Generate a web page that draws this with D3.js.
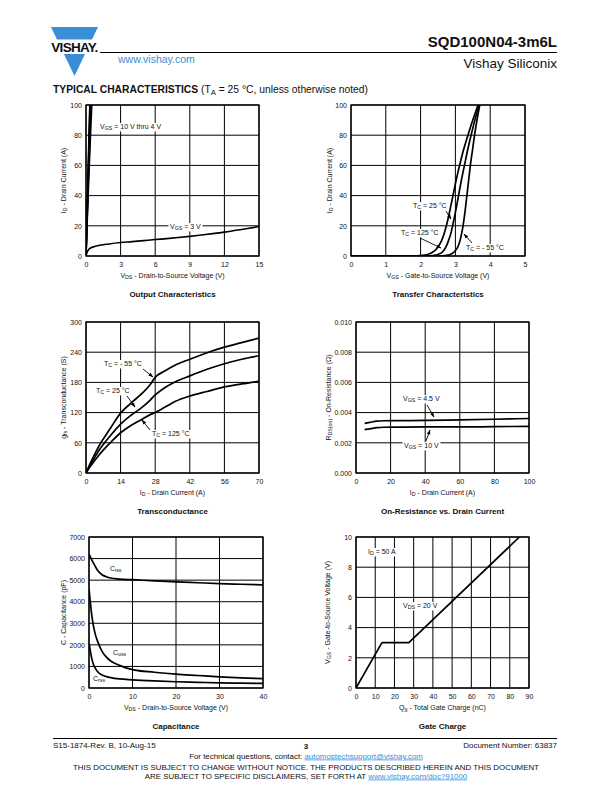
<!DOCTYPE html>
<html><head><meta charset="utf-8">
<script src="https://cdn.jsdelivr.net/npm/d3@7"></script>
<style>
body{margin:0;background:#fff}
svg{display:block}
text{font-family:"Liberation Sans",Arial,Helvetica,sans-serif;fill:#111}
</style>
</head><body>
<svg id="c" width="612" height="792"></svg>
<script>
// ---------------- DATA ----------------
// Output characteristics (VDS [V], ID [A])
const outTicksX = [0, 3, 6, 9, 12, 15];
const outTicksY = [0, 20, 40, 60, 80, 100];
const outVgs10 = [[0,0],[0.1,31],[0.2,62],[0.3,92],[0.33,100]];
const outVgs8  = [[0,0],[0.1,29],[0.2,58],[0.3,86],[0.35,100]];
const outVgs6  = [[0,0],[0.1,27],[0.2,54],[0.3,80],[0.38,100]];
const outVgs5  = [[0,0],[0.1,25],[0.2,49],[0.3,72],[0.42,100]];
const outVgs4  = [[0,0],[0.1,22],[0.2,43],[0.3,63],[0.4,82],[0.5,100]];
const outVgs3  = [[0,0],[0.1,2.5],[0.2,4],[0.4,5.3],[0.7,6.2],[1,6.8],[2,8],[3,8.9],[4,9.5],[5,10.2],[6,10.9],[7,11.5],[8,12.2],[9,13],[10,13.9],[11,14.8],[12,15.8],[13,17],[14,18.2],[15,19.5]];

// Transfer characteristics (VGS [V], ID [A])
const trTicksX = [0, 1, 2, 3, 4, 5];
const trTicksY = [0, 20, 40, 60, 80, 100];
const tr125 = [[0,0],[1.8,0],[2.0,0.3],[2.2,1],[2.38,3],[2.5,6],[2.6,10],[2.68,15],[2.74,20],[2.84,30],[2.93,40],[3.02,50],[3.12,60],[3.23,70],[3.36,80],[3.5,90],[3.65,100]];
const tr25  = [[0,0],[2.2,0],[2.35,0.3],[2.5,1],[2.64,3],[2.73,6],[2.8,10],[2.87,15],[2.92,20],[3.01,30],[3.09,40],[3.17,50],[3.26,60],[3.35,70],[3.45,80],[3.56,90],[3.68,100]];
const trM55 = [[0,0],[2.55,0],[2.7,0.3],[2.85,1],[2.98,3],[3.07,6],[3.13,10],[3.18,15],[3.22,20],[3.28,30],[3.33,40],[3.38,50],[3.43,60],[3.49,70],[3.55,80],[3.62,90],[3.7,100]];

// Transconductance (ID [A], gfs [S])
const gfsTicksX = [0, 14, 28, 42, 56, 70];
const gfsTicksY = [0, 60, 120, 180, 240, 300];
const gfsM55 = [[0,0],[2,22],[4,42],[6,60],[8,75],[10,90],[14,119],[18,138],[22,155],[26,176],[28,190],[32,203],[36,214],[42,226],[49,239],[56,250],[63,259],[70,268]];
const gfs25  = [[0,0],[2,18],[4,35],[6,50],[8,63],[10,75],[14,97],[18,114],[22,128],[26,145],[28,155],[32,170],[36,181],[42,193],[49,206],[56,217],[63,226],[70,233]];
const gfs125 = [[0,0],[2,15],[4,28],[6,40],[8,51],[10,61],[14,80],[18,94],[22,105],[26,116],[28,120],[32,131],[36,142],[42,153],[49,162],[56,171],[63,177],[70,182]];

// On-resistance (ID [A], RDS(on) [Ohm])
const rdsTicksX = [0, 20, 40, 60, 80, 100];
const rdsTicksY = [0, 0.002, 0.004, 0.006, 0.008, 0.010];
const rdsVgs45 = [[5,0.00329],[8,0.00335],[12,0.00343],[16,0.00346],[25,0.00347],[40,0.00348],[60,0.00352],[80,0.00356],[100,0.00361]];
const rdsVgs10 = [[5,0.00287],[8,0.00292],[12,0.00300],[16,0.00303],[25,0.00304],[40,0.00305],[60,0.00305],[80,0.00307],[100,0.00309]];

// Capacitance (VDS [V], C [pF])
const capTicksX = [0, 10, 20, 30, 40];
const capTicksY = [0, 1000, 2000, 3000, 4000, 5000, 6000, 7000];
const capCiss = [[0,6200],[0.5,6000],[1,5800],[2,5450],[3,5250],[4,5160],[5,5100],[7,5050],[10,5020],[15,4970],[20,4920],[25,4880],[30,4840],[35,4810],[40,4780]];
const capCoss = [[0,4600],[0.25,4100],[0.5,3600],[1,2900],[1.5,2450],[2,2150],[3,1700],[4,1430],[5,1250],[7,1050],[10,850],[15,730],[20,640],[25,580],[30,520],[35,470],[40,430]];
const capCrss = [[0,2100],[0.25,1800],[0.5,1500],[1,1100],[1.5,900],[2,750],[3,600],[4,530],[5,480],[7,420],[10,380],[15,330],[20,290],[25,265],[30,240],[35,225],[40,210]];

// Gate charge (Qg [nC], VGS [V])
const gcTicksX = [0, 10, 20, 30, 40, 50, 60, 70, 80, 90];
const gcTicksY = [0, 2, 4, 6, 8, 10];
const gcVgs = [[0,0],[13.5,3],[27.5,3],[85,10]];

// ---------------- DRAW ----------------
const svg = d3.select("#c");
const FS = 7;

function rich(t, str) {
  const parts = str.split(/_\{([^}]*)\}/);
  let pendingUp = false;
  parts.forEach((p, i) => {
    if (i % 2 === 1) {
      t.append("tspan").attr("font-size", "75%").attr("dy", "0.28em").text(p);
      pendingUp = true;
    } else if (p.length) {
      const ts = t.append("tspan").text(p);
      if (pendingUp) { ts.attr("dy", "-0.21em"); pendingUp = false; }
    }
  });
  return t;
}

svg.append("defs").append("marker")
  .attr("id", "arr").attr("viewBox", "0 0 10 10").attr("refX", 9).attr("refY", 5)
  .attr("markerWidth", 5).attr("markerHeight", 5).attr("orient", "auto")
  .attr("markerUnits", "userSpaceOnUse")
  .append("path").attr("d", "M0,1.5 L10,5 L0,8.5 Z").attr("fill", "#000");

function chart(cfg, idx) {
  const x = d3.scaleLinear().domain(cfg.xd).range([cfg.x0, cfg.x1]);
  const y = d3.scaleLinear().domain(cfg.yd).range([cfg.y1, cfg.y0]);
  const g = svg.append("g");
  const cid = "clip" + idx;
  svg.select("defs").append("clipPath").attr("id", cid)
    .append("rect").attr("x", cfg.x0).attr("y", cfg.y0)
    .attr("width", cfg.x1 - cfg.x0).attr("height", cfg.y1 - cfg.y0);
  // grid
  g.selectAll(".gx").data(cfg.xt).enter().append("line")
    .attr("x1", d => x(d)).attr("x2", d => x(d)).attr("y1", cfg.y0).attr("y2", cfg.y1)
    .attr("stroke", "#000").attr("stroke-width", 1);
  g.selectAll(".gy").data(cfg.yt).enter().append("line")
    .attr("y1", d => y(d)).attr("y2", d => y(d)).attr("x1", cfg.x0).attr("x2", cfg.x1)
    .attr("stroke", "#000").attr("stroke-width", 1);
  // axes via d3 (labels only)
  const ax = g.append("g").attr("transform", `translate(0,${cfg.y1})`)
    .call(d3.axisBottom(x).tickValues(cfg.xt).tickFormat(cfg.xf || (d => d)).tickSize(0).tickPadding(6));
  const ay = g.append("g").attr("transform", `translate(${cfg.x0},0)`)
    .call(d3.axisLeft(y).tickValues(cfg.yt).tickFormat(cfg.yf || (d => d)).tickSize(0).tickPadding(4));
  [ax, ay].forEach(a => {
    a.select(".domain").remove();
    a.selectAll("text").attr("font-size", FS).attr("font-family", "Liberation Sans, Arial, sans-serif").attr("fill", "#222");
  });
  // series
  const line = d3.line().x(d => x(d[0])).y(d => y(d[1])).curve(cfg.curve || d3.curveMonotoneX);
  const sg = g.append("g").attr("clip-path", `url(#${cid})`);
  cfg.series.forEach(s => {
    sg.append("path").attr("d", line(s)).attr("fill", "none")
      .attr("stroke", "#000").attr("stroke-width", cfg.sw || 1.7).attr("stroke-linejoin", "round");
  });
  // annotations (white background)
  (cfg.notes || []).forEach(n => {
    const t = g.append("text").attr("x", n.x).attr("y", n.y).attr("font-size", FS)
      .attr("text-anchor", n.anchor || "start");
    rich(t, n.text);
    if (n.bg !== false) {
      const b = t.node().getBBox();
      g.insert("rect", () => t.node()).attr("x", b.x - 1.5).attr("y", b.y)
        .attr("width", b.width + 3).attr("height", b.height).attr("fill", "#fff");
    }
    if (n.arrow) {
      g.append("line").attr("x1", n.arrow[0]).attr("y1", n.arrow[1])
        .attr("x2", n.arrow[2]).attr("y2", n.arrow[3])
        .attr("stroke", "#000").attr("stroke-width", 0.9).attr("marker-end", "url(#arr)");
    }
  });
  // frame
  g.append("rect").attr("x", cfg.x0).attr("y", cfg.y0)
    .attr("width", cfg.x1 - cfg.x0).attr("height", cfg.y1 - cfg.y0)
    .attr("fill", "none").attr("stroke", "#000").attr("stroke-width", 1.3);
  // titles
  rich(g.append("text").attr("x", (cfg.x0 + cfg.x1) / 2).attr("y", cfg.y1 + 22)
    .attr("text-anchor", "middle").attr("font-size", FS), cfg.xTitle);
  rich(g.append("text").attr("transform", `translate(${cfg.yTx},${(cfg.y0 + cfg.y1) / 2}) rotate(-90)`)
    .attr("text-anchor", "middle").attr("font-size", FS), cfg.yTitle);
  g.append("text").attr("x", (cfg.x0 + cfg.x1) / 2).attr("y", cfg.y1 + 40.5)
    .attr("text-anchor", "middle").attr("font-size", 8).attr("font-weight", "bold").text(cfg.title);
}

const charts = [
  {x0:86, x1:259, y0:105, y1:256, xd:[0,15], yd:[0,100], xt:outTicksX, yt:outTicksY,
   series:[outVgs10, outVgs8, outVgs6, outVgs5, outVgs4, outVgs3], sw:1.6,
   xTitle:"V_{DS} - Drain-to-Source Voltage (V)", yTitle:"I_{D} - Drain Current (A)", yTx:66,
   title:"Output Characteristics",
   notes:[{x:100, y:129, text:"V_{GS} = 10 V thru 4 V"},
          {x:170, y:229, text:"V_{GS} = 3 V"}]},
  {x0:351, x1:525, y0:105, y1:256, xd:[0,5], yd:[0,100], xt:trTicksX, yt:trTicksY,
   series:[tr125, tr25, trM55],
   xTitle:"V_{GS} - Gate-to-Source Voltage (V)", yTitle:"I_{D} - Drain Current (A)", yTx:332,
   title:"Transfer Characteristics",
   notes:[{x:413, y:208, text:"T_{C} = 25 °C", arrow:[446,211,451,219]},
          {x:401, y:235, text:"T_{C} = 125 °C", arrow:[420,238,441,248]},
          {x:466, y:250, text:"T_{C} = - 55 °C", arrow:[472,243,464,234]}]},
  {x0:86, x1:259, y0:322, y1:473, xd:[0,70], yd:[0,300], xt:gfsTicksX, yt:gfsTicksY,
   series:[gfsM55, gfs25, gfs125],
   xTitle:"I_{D} - Drain Current (A)", yTitle:"g_{fs} - Transconductance (S)", yTx:66,
   title:"Transconductance",
   notes:[{x:104, y:366, text:"T_{C} = - 55 °C", arrow:[143,369,153,377]},
          {x:96, y:393, text:"T_{C} = 25 °C", arrow:[127,396,135,407]},
          {x:152, y:436, text:"T_{C} = 125 °C", arrow:[150,430,142,420]}]},
  {x0:356, x1:529, y0:322, y1:473, xd:[0,100], yd:[0,0.010], xt:rdsTicksX, yt:rdsTicksY,
   yf:d3.format(".3f"),
   series:[rdsVgs45, rdsVgs10],
   xTitle:"I_{D} - Drain Current (A)", yTitle:"R_{DS(on)} - On-Resistance (Ω)", yTx:331,
   title:"On-Resistance vs. Drain Current",
   notes:[{x:403, y:401, text:"V_{GS} = 4.5 V", arrow:[427,405,434,417]},
          {x:404, y:448, text:"V_{GS} = 10 V", arrow:[426,441,430,430]}]},
  {x0:89, x1:263, y0:537, y1:688, xd:[0,40], yd:[0,7000], xt:capTicksX, yt:capTicksY,
   series:[capCiss, capCoss, capCrss],
   xTitle:"V_{DS} - Drain-to-Source Voltage (V)", yTitle:"C - Capacitance (pF)", yTx:66,
   title:"Capacitance",
   notes:[{x:110, y:571, text:"C_{iss}", bg:false},
          {x:113, y:655, text:"C_{oss}", bg:false},
          {x:93, y:681, text:"C_{rss}", bg:false}]},
  {x0:356, x1:529, y0:537, y1:688, xd:[0,90], yd:[0,10], xt:gcTicksX, yt:gcTicksY,
   series:[gcVgs], curve:d3.curveLinear,
   xTitle:"Q_{g} - Total Gate Charge (nC)", yTitle:"V_{GS} - Gate-to-Source Voltage (V)", yTx:330,
   title:"Gate Charge",
   notes:[{x:368, y:554, text:"I_{D} = 50 A"},
          {x:403, y:608, text:"V_{DS} = 20 V"}]}
];
charts.forEach((c, i) => chart(c, i));

// ---------------- HEADER ----------------
const blue = "#3a8ed8";
const hd = svg.append("g");
const tri = (yA, yB) => {
  const top = 27, apex = 76, xl = 51, xr = 98, cx = 74.5;
  const hw = yy => (xr - xl) / 2 * (apex - yy) / (apex - top);
  if (yB >= apex) return `M${cx - hw(yA)},${yA} L${cx + hw(yA)},${yA} L${cx},${apex} Z`;
  return `M${cx - hw(yA)},${yA} L${cx + hw(yA)},${yA} L${cx + hw(yB)},${yB} L${cx - hw(yB)},${yB} Z`;
};
hd.append("path").attr("d", tri(27, 39.5)).attr("fill", blue);
hd.append("path").attr("d", tri(54, 76)).attr("fill", blue);
hd.append("text").attr("x", 74.5).attr("y", 52).attr("text-anchor", "middle")
  .attr("font-size", 13.5).attr("font-weight", "bold").attr("letter-spacing", -0.7).attr("fill", "#000").text("VISHAY.");
hd.append("line").attr("x1", 100).attr("x2", 557).attr("y1", 52.5).attr("y2", 52.5).attr("stroke", "#000").attr("stroke-width", 1);
hd.append("text").attr("x", 557).attr("y", 47).attr("text-anchor", "end").attr("font-size", 15).attr("font-weight", "bold").text("SQD100N04-3m6L");
hd.append("text").attr("x", 557).attr("y", 68).attr("text-anchor", "end").attr("font-size", 13.5).text("Vishay Siliconix");
hd.append("text").attr("x", 118).attr("y", 63).attr("font-size", 10.5).style("fill", blue).text("www.vishay.com");
const tc = hd.append("text").attr("x", 53).attr("y", 93).attr("font-size", 10.3);
tc.append("tspan").attr("font-weight", "bold").text("TYPICAL CHARACTERISTICS ");
tc.append("tspan").text("(T");
tc.append("tspan").attr("font-size", "75%").attr("dy", 2).text("A");
tc.append("tspan").attr("dy", -2).text(" = 25 °C, unless otherwise noted)");

// ---------------- FOOTER ----------------
const ft = svg.append("g");
ft.append("line").attr("x1", 53).attr("x2", 557).attr("y1", 738.5).attr("y2", 738.5).attr("stroke", "#000").attr("stroke-width", 1);
ft.append("text").attr("x", 53).attr("y", 747.5).attr("font-size", 8).text("S15-1874-Rev. B, 10-Aug-15");
ft.append("text").attr("x", 306).attr("y", 748.5).attr("text-anchor", "middle").attr("font-size", 8).attr("font-weight", "bold").text("3");
ft.append("text").attr("x", 557).attr("y", 747.5).attr("text-anchor", "end").attr("font-size", 8).text("Document Number: 63837");
const f2 = ft.append("text").attr("x", 306).attr("y", 758.5).attr("text-anchor", "middle").attr("font-size", 7.9);
f2.append("tspan").text("For technical questions, contact: ");
f2.append("tspan").style("fill", blue).attr("text-decoration", "underline").text("automostechsupport@vishay.com");
ft.append("text").attr("x", 306).attr("y", 769.5).attr("text-anchor", "middle").attr("font-size", 7.9)
  .text("THIS DOCUMENT IS SUBJECT TO CHANGE WITHOUT NOTICE. THE PRODUCTS DESCRIBED HEREIN AND THIS DOCUMENT");
const f4 = ft.append("text").attr("x", 306).attr("y", 778.5).attr("text-anchor", "middle").attr("font-size", 7.9);
f4.append("tspan").text("ARE SUBJECT TO SPECIFIC DISCLAIMERS, SET FORTH AT ");
f4.append("tspan").style("fill", blue).attr("text-decoration", "underline").text("www.vishay.com/doc?91000");
</script>
</body></html>
